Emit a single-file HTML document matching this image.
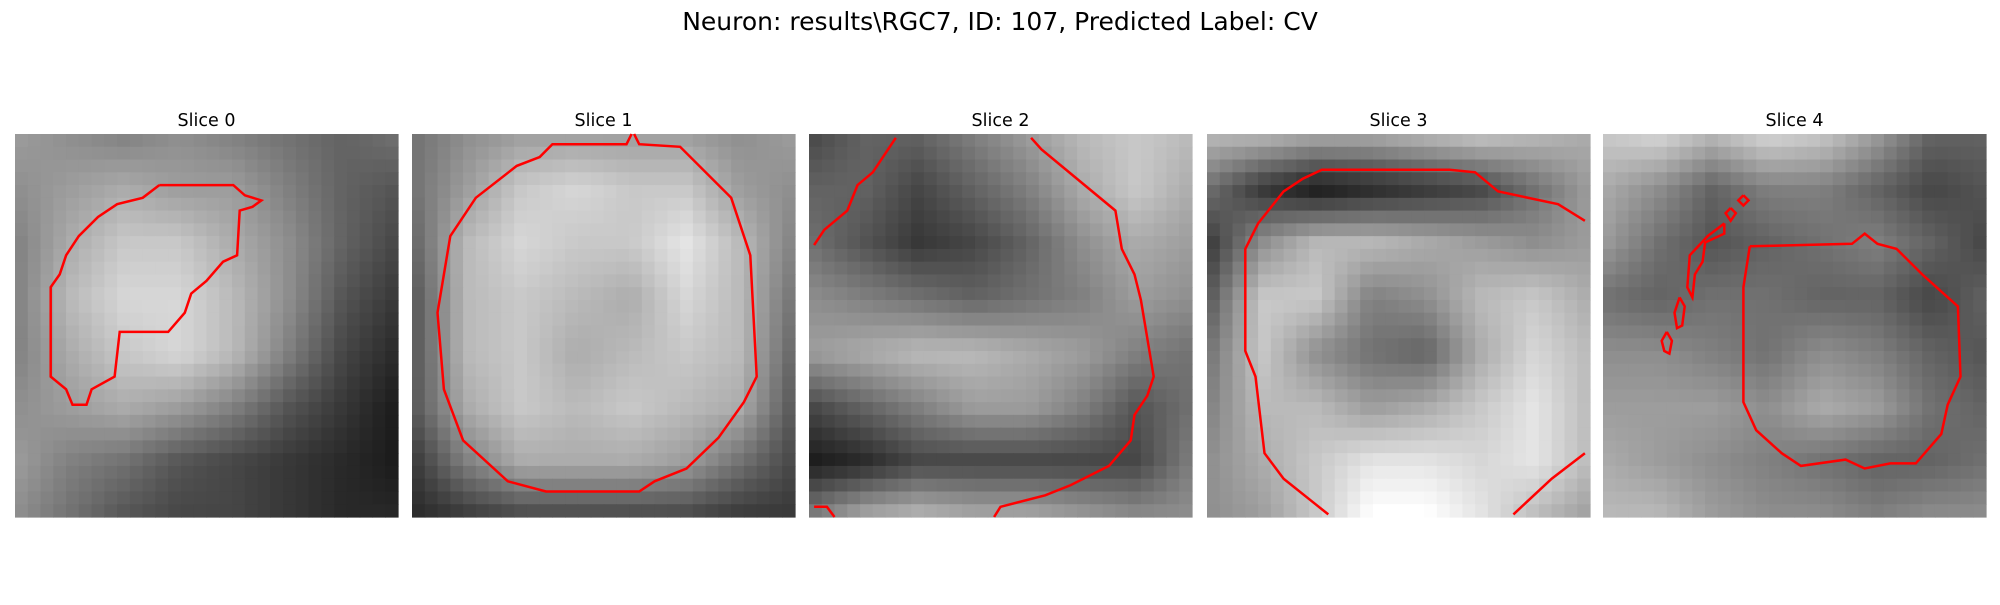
<!DOCTYPE html>
<html><head><meta charset="utf-8"><style>
body{margin:0;background:#fff;width:2000px;height:600px;overflow:hidden;font-family:"Liberation Sans","DejaVu Sans",sans-serif}
</style></head><body>
<svg id="fig" width="2000" height="600" xmlns="http://www.w3.org/2000/svg">
<rect width="2000" height="600" fill="#fff"/>
<text x="1000" y="30" text-anchor="middle" font-size="25" font-family="DejaVu Sans, Liberation Sans, sans-serif">Neuron: results\RGC7, ID: 107, Predicted Label: CV</text>
</svg>
<script>
const panelTitles=["Slice 0","Slice 1","Slice 2","Slice 3","Slice 4"];
const grid0=[[150,140,130,140,130,120,110,120],[140,150,160,150,150,130,110,100],[130,160,180,180,160,140,110,90],[130,170,190,190,170,140,100,80],[130,160,180,190,170,130,90,70],[140,150,160,150,130,100,80,60],[150,130,120,100,90,80,70,60],[140,120,100,90,90,80,70,70]];
const grid1=[[120,140,150,150,150,150,140,150],[120,150,180,190,180,180,150,140],[110,170,190,180,180,200,170,130],[100,170,180,170,160,190,170,120],[100,170,180,160,170,180,170,110],[100,160,180,170,180,170,160,100],[80,130,160,160,160,150,120,90],[70,80,90,90,90,90,80,80]];
const grid2=[[90,110,110,130,150,170,180,170],[110,110,90,110,130,160,180,160],[120,100,80,90,110,140,160,150],[140,130,120,110,120,130,150,140],[150,160,170,170,160,150,130,120],[90,110,130,150,150,130,100,120],[60,70,90,90,90,90,90,130],[130,160,170,160,160,150,140,140]];
const grid3=[[170,170,160,160,170,180,170,160],[120,80,60,70,80,90,120,150],[80,140,170,170,160,150,140,150],[100,180,180,130,140,170,180,160],[120,180,140,120,110,160,190,170],[130,170,170,150,160,180,200,170],[140,160,180,200,200,190,200,170],[140,150,180,220,220,200,170,150]];
const grid4=[[180,190,170,190,180,150,110,110],[160,140,110,130,130,110,90,100],[150,120,100,110,120,130,110,90],[120,110,120,120,110,110,90,110],[140,140,130,120,140,130,110,100],[150,150,150,140,160,150,120,110],[160,150,140,130,120,110,110,120],[170,170,150,140,140,130,140,140]];
const grids=[grid0,grid1,grid2,grid3,grid4];
const contours=[
 [[[113,40],[171,40],[180,48],[193,52],[186,57],[176,60],[174,95],[163,100],[150,115],[138,125],[133,140],[120,155],[82,155],[78,190],[60,200],[56,212],[45,212],[40,200],[28,190],[28,120],[35,110],[40,95],[50,80],[65,65],[80,55],[100,50],[113,40]]],
 [[[172,0],[168,8],[110,8],[100,18],[82,25],[50,50],[30,80],[20,140],[25,200],[40,240],[75,272],[105,280],[178,280],[190,272],[215,262],[240,238],[260,210],[270,190],[265,95],[250,50],[210,10],[178,8],[174,0]]],
 [[[4,87],[12,75],[30,60],[38,40],[50,30],[68,3]],[[174,3],[182,12],[240,60],[245,90],[255,110],[260,130],[270,190],[265,205],[255,220],[252,240],[235,260],[205,275],[185,283],[150,292],[145,300]],[[4,292],[14,292],[20,300]]],
 [[[296,68],[275,55],[228,45],[210,30],[190,28],[90,28],[75,35],[60,45],[40,70],[30,90],[30,170],[38,190],[45,250],[60,270],[85,290],[95,298]],[[240,298],[270,270],[296,250]]],
 [[[115,88],[195,86],[205,78],[215,86],[230,90],[250,110],[278,135],[280,190],[270,212],[265,235],[245,258],[225,258],[205,262],[190,255],[155,260],[140,250],[120,232],[110,210],[110,120],[115,88]],
  [[95,70],[82,80],[68,95],[66,120],[70,128],[72,110],[78,100],[80,85],[95,78],[95,70]],
  [[100,58],[104,62],[100,68],[96,62],[100,58]],[[110,48],[114,52],[110,56],[106,52],[110,48]],
  [[60,128],[64,135],[62,150],[58,152],[56,140],[60,128]],[[50,155],[54,162],[52,172],[48,170],[46,162],[50,155]]]
];
const lefts=[15,412,809,1207,1603], panelTop=134, size=383, N=30;
const NS="http://www.w3.org/2000/svg", svg=document.getElementById('fig');
function sample(g,u,v){const x=u*7,y=v*7,i=Math.min(6,Math.floor(x)),j=Math.min(6,Math.floor(y)),fx=x-i,fy=y-j;
 return g[j][i]*(1-fx)*(1-fy)+g[j][i+1]*fx*(1-fy)+g[j+1][i]*(1-fx)*fy+g[j+1][i+1]*fx*fy;}
grids.forEach((g,p)=>{
 const grp=document.createElementNS(NS,'g');
 
 
 const t=document.createElementNS(NS,'text');
 t.setAttribute('x',lefts[p]+size/2);t.setAttribute('y',126);t.setAttribute('text-anchor','middle');
 t.setAttribute('font-size','17.5');t.setAttribute('font-family','DejaVu Sans, Liberation Sans, sans-serif');
 t.textContent=panelTitles[p];
 
 
 grp.appendChild(t);
 const c=size/N;
 for(let r=0;r<N;r++)for(let k=0;k<N;k++){
  const raw=sample(g,(k+0.5)/N,(r+0.5)/N);
  const v=Math.round(Math.max(0,Math.min(255,135+(raw-135)*1.45)));
  const re=document.createElementNS(NS,'rect');
  re.setAttribute('x',(lefts[p]+k*c).toFixed(2));re.setAttribute('y',(panelTop+r*c).toFixed(2));
  re.setAttribute('width',(c+0.6).toFixed(2));re.setAttribute('height',(c+0.6).toFixed(2));
  re.setAttribute('fill',`rgb(${v},${v},${v})`);
  grp.appendChild(re);
 }
 contours[p].forEach(line=>{
  const pl=document.createElementNS(NS,'polyline');
  pl.setAttribute('points',line.map(q=>(lefts[p]+q[0]*size/300).toFixed(1)+','+(panelTop+q[1]*size/300).toFixed(1)).join(' '));
  pl.setAttribute('fill','none');pl.setAttribute('stroke','#ff0000');pl.setAttribute('stroke-width','2.5');
  
  
  grp.appendChild(pl);
 });
 svg.appendChild(grp);
});
</script>
</body></html>
